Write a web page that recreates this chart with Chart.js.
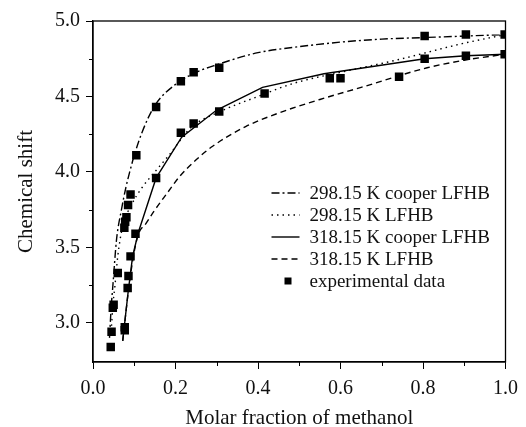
<!DOCTYPE html>
<html>
<head>
<meta charset="utf-8">
<script src="https://cdn.jsdelivr.net/npm/chart.js@4/dist/chart.umd.min.js"></script>
<style>
  html, body { margin: 0; padding: 0; background: #fff; }
  #wrap { width: 526px; height: 427px; }
</style>
</head>
<body>
<div id="wrap"><canvas id="shiftChart"></canvas></div>
<script>
// experimental points (molar fraction, chemical shift)
const expX = [0.043, 0.045, 0.048, 0.050, 0.060, 0.077, 0.077, 0.084, 0.086, 0.091, 0.103,
  0.076, 0.078, 0.081, 0.085, 0.091, 0.105, 0.153, 0.153, 0.213, 0.213, 0.244, 0.244,
  0.306, 0.306, 0.416, 0.574, 0.600, 0.742, 0.804, 0.804, 0.904, 0.904, 0.998, 0.998];
const expY = [2.84, 2.94, 3.10, 3.12, 3.33, 2.95, 2.97, 3.23, 3.31, 3.44, 3.59,
  3.63, 3.67, 3.70, 3.78, 3.85, 4.11, 3.96, 4.43, 4.26, 4.60, 4.32, 4.66,
  4.40, 4.69, 4.52, 4.62, 4.62, 4.63, 4.75, 4.90, 4.77, 4.91, 4.78, 4.91];

// 298.15 K cooper LFHB
const cool1X = [0.040, 0.044, 0.048, 0.057, 0.069, 0.080, 0.090, 0.100, 0.120, 0.150,
  0.200, 0.250, 0.300, 0.400, 0.500, 0.600, 0.700, 0.800, 0.900, 1.000];
const cool1Y = [2.90, 3.10, 3.24, 3.55, 3.75, 3.90, 4.01, 4.11, 4.27, 4.44,
  4.58, 4.66, 4.71, 4.79, 4.83, 4.86, 4.88, 4.89, 4.90, 4.91];

// 298.15 K LFHB
const lf1X = [0.045, 0.048, 0.053, 0.060, 0.072, 0.093, 0.120, 0.150, 0.184, 0.240,
  0.300, 0.400, 0.490, 0.600, 0.734, 0.895, 1.000];
const lf1Y = [2.98, 3.11, 3.24, 3.44, 3.64, 3.78, 3.90, 4.00, 4.11, 4.30,
  4.39, 4.50, 4.59, 4.66, 4.74, 4.85, 4.91];

// 318.15 K cooper LFHB (drawn as straight segments)
const cool2X = [0.072, 0.085, 0.096, 0.110, 0.153, 0.215, 0.300, 0.411, 0.560, 0.804,
  0.904, 1.000];
const cool2Y = [2.88, 3.20, 3.44, 3.60, 3.96, 4.23, 4.41, 4.56, 4.65, 4.75,
  4.77, 4.78];

// 318.15 K LFHB
const lf2X = [0.072, 0.090, 0.108, 0.129, 0.148, 0.180, 0.210, 0.250, 0.290, 0.370,
  0.450, 0.550, 0.650, 0.810, 0.900, 1.000];
const lf2Y = [2.88, 3.30, 3.57, 3.66, 3.74, 3.86, 3.97, 4.08, 4.17, 4.30,
  4.39, 4.48, 4.56, 4.69, 4.74, 4.78];

const yTicks = [3.0, 3.25, 3.5, 3.75, 4.0, 4.25, 4.5, 4.75, 5.0];
const labels = ["298.15 K cooper LFHB", "298.15 K LFHB", "318.15 K cooper LFHB",
  "318.15 K LFHB", "experimental data"];

const pts = (xs, ys) => xs.map((x, i) => ({ x: x, y: ys[i] }));
const serif = "'Liberation Serif', 'DejaVu Serif', serif";
const ink = "#111";

const curve = (label, xs, ys, dash, smooth) => ({
  type: "line",
  label: label,
  data: pts(xs, ys),
  borderColor: "#000",
  borderWidth: 1.4,
  borderDash: dash,
  pointRadius: 0,
  fill: false,
  cubicInterpolationMode: smooth ? "monotone" : "default",
  tension: 0,
});

const isMajorX = (v) => Math.round(v * 10) % 2 === 0;
const isMajorY = (v) => Math.abs(v * 2 - Math.round(v * 2)) < 1e-6;

// frame, minor ticks and legend inside the plot
const extras = {
  id: "extras",
  afterDraw(chart) {
    const { ctx, chartArea: a, scales } = chart;
    ctx.save();
    ctx.strokeStyle = "#000";
    ctx.lineWidth = 1.3;
    ctx.strokeRect(a.left, a.top, a.right - a.left, a.bottom - a.top);

    ctx.lineWidth = 1;
    ctx.beginPath();
    scales.x.ticks.forEach((t) => {
      if (isMajorX(t.value)) return;
      const px = Math.round(scales.x.getPixelForValue(t.value)) + 0.5;
      ctx.moveTo(px, a.bottom);
      ctx.lineTo(px, a.bottom + 4);
    });
    scales.y.ticks.forEach((t) => {
      if (isMajorY(t.value)) return;
      const py = Math.round(scales.y.getPixelForValue(t.value)) + 0.5;
      ctx.moveTo(a.left, py);
      ctx.lineTo(a.left - 4, py);
    });
    ctx.stroke();

    // legend
    const lx = a.right - 234;
    const ly = a.top + 172;
    const dashes = [[8, 3, 2, 3], [1.5, 4], [], [6, 4]];
    ctx.font = "19px " + serif;
    ctx.fillStyle = ink;
    ctx.textBaseline = "middle";
    labels.forEach((txt, i) => {
      const y = ly + i * 22;
      if (i < 4) {
        ctx.beginPath();
        ctx.setLineDash(dashes[i]);
        ctx.lineWidth = 1.4;
        ctx.moveTo(lx, y);
        ctx.lineTo(lx + 28, y);
        ctx.stroke();
        ctx.setLineDash([]);
      } else {
        ctx.fillStyle = "#000";
        ctx.fillRect(lx + 13, y - 3.5, 7, 7);
        ctx.fillStyle = ink;
      }
      ctx.fillText(txt, lx + 38, y + 1);
    });
    ctx.restore();
  },
};

new Chart(document.getElementById("shiftChart"), {
  type: "scatter",
  data: {
    datasets: [
      curve(labels[0], cool1X, cool1Y, [8, 3, 2, 3], true),
      curve(labels[1], lf1X, lf1Y, [1.5, 4], true),
      curve(labels[2], cool2X, cool2Y, [], false),
      curve(labels[3], lf2X, lf2Y, [6, 4], true),
      {
        label: labels[4],
        data: pts(expX, expY),
        pointStyle: "rect",
        pointRadius: 6,
        pointBackgroundColor: "#000",
        pointBorderWidth: 0,
        showLine: false,
      },
    ],
  },
  plugins: [extras],
  options: {
    responsive: true,
    maintainAspectRatio: false,
    animation: false,
    layout: { padding: { top: 21, right: 15, left: 0, bottom: 0 } },
    plugins: {
      legend: { display: false },
      tooltip: { enabled: false },
    },
    scales: {
      x: {
        type: "linear",
        min: 0,
        max: 1,
        afterFit(scale) { scale.height = 65; },
        border: { color: "#000", width: 1.3 },
        grid: {
          drawOnChartArea: false,
          tickLength: 7,
          color: (c) => (c.tick && isMajorX(c.tick.value) ? "#000" : "rgba(0,0,0,0)"),
        },
        ticks: {
          stepSize: 0.1,
          autoSkip: false,
          maxRotation: 0,
          padding: 8,
          color: ink,
          font: { family: serif, size: 20 },
          callback: (v) => (isMajorX(v) ? v.toFixed(1) : ""),
        },
        title: {
          display: true,
          text: "Molar fraction of methanol",
          color: ink,
          font: { family: serif, size: 21, lineHeight: 1.0 },
          padding: { top: 0, bottom: -2 },
        },
      },
      y: {
        type: "linear",
        min: 2.74,
        max: 5.0,
        afterFit(scale) { scale.width = 93; },
        afterBuildTicks(scale) { scale.ticks = yTicks.map((v) => ({ value: v })); },
        border: { color: "#000", width: 1.3 },
        grid: {
          drawOnChartArea: false,
          tickLength: 7,
          color: (c) => (c.tick && isMajorY(c.tick.value) ? "#000" : "rgba(0,0,0,0)"),
        },
        ticks: {
          padding: 6,
          color: ink,
          font: { family: serif, size: 20 },
          callback: (v) => (isMajorY(v) ? v.toFixed(1) : ""),
        },
        title: {
          display: true,
          text: "Chemical shift",
          color: ink,
          font: { family: serif, size: 21 },
          padding: { top: 14, bottom: 0 },
        },
      },
    },
  },
});
</script>
</body>
</html>
